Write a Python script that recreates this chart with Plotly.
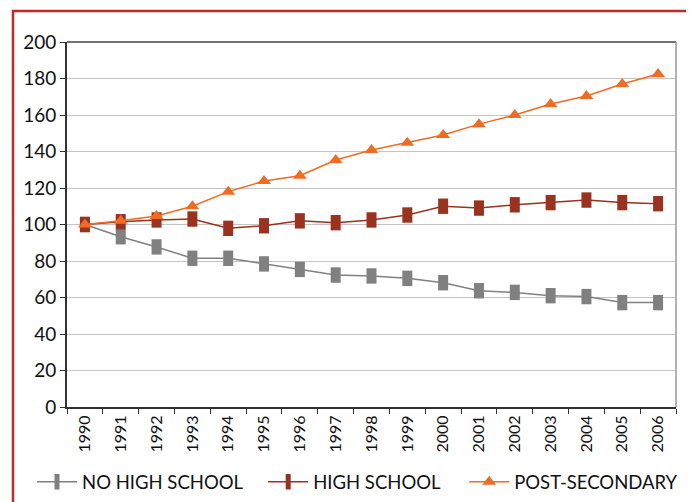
import plotly.graph_objects as go

years = [str(y) for y in range(1990, 2007)]
no_high_school = [100, 93.3, 87.7, 81.5, 81.5, 78.4, 75.4, 72.3, 71.8, 70.5, 68.1,
                  63.7, 62.8, 61.0, 60.5, 57.2, 57.2]
high_school = [100, 101.5, 102.5, 103, 97.9, 99.3, 102, 101, 102.5, 105.2, 110,
               109, 110.8, 112, 113.4, 112, 111.4]
post_secondary = [100, 102, 104.7, 110, 118, 123.8, 126.7, 135.3, 140.8, 144.8, 149,
                  155, 160, 166, 170.4, 177, 182.5]

fig = go.Figure()

# squares in the original are tall rectangles -> thick vertical line markers
for name, vals, color, leg in [("NO HIGH SCHOOL", no_high_school, "#808080", "legend"),
                               ("HIGH SCHOOL", high_school, "#9a3220", "legend2")]:
    fig.add_trace(go.Scatter(
        x=years, y=vals, name=name, mode="lines+markers",
        line=dict(color=color, width=1.5),
        marker=dict(symbol="line-ns", size=11, color=color,
                    line=dict(color=color, width=10)),
        legend=leg,
    ))

fig.add_trace(go.Scatter(
    x=years, y=post_secondary, name="POST-SECONDARY", mode="lines+markers",
    line=dict(color="#f26b22", width=1.5),
    marker=dict(symbol="triangle-up", size=12, color="#f26b22"),
    legend="legend3",
))

fig.update_xaxes(
    type="category", range=[-0.5, 16.5], tickangle=-90,
    tickson="boundaries", ticks="outside", ticklen=5, tickcolor="#333",
    showline=True, linecolor="#333", linewidth=2,
    showgrid=False, tickfont=dict(size=16, color="#111"),
)
fig.update_yaxes(
    range=[0, 200], dtick=20, ticks="outside", ticklen=5, tickcolor="#333",
    showline=True, linecolor="#333", linewidth=2,
    gridcolor="#c4c4c4", gridwidth=1, zeroline=False,
    tickfont=dict(size=19, color="#111"),
)

# plot frame: dark top edge, grey right edge
fig.add_shape(type="line", xref="paper", yref="paper", x0=0, x1=1, y0=1, y1=1,
              line=dict(color="#444", width=1.5))
fig.add_shape(type="line", xref="paper", yref="paper", x0=1, x1=1, y0=0, y1=1,
              line=dict(color="#999", width=1.5))
# red outer border (bottom edge falls outside the picture)
fig.add_shape(type="rect", xref="paper", yref="paper",
              x0=-0.0887, x1=1.026, y0=-0.32, y1=1.085,
              line=dict(color="#c0282d", width=2.5), layer="below")

legend_style = dict(orientation="h", xref="container", yref="container",
                    xanchor="left", y=0.04, yanchor="middle",
                    font=dict(size=18.5), itemwidth=40, bgcolor="rgba(0,0,0,0)")

# page body has an 8px margin, so the figure is 8px smaller than the window
fig.update_layout(
    width=686, height=494,
    margin=dict(l=59, r=18, t=34, b=95, autoexpand=False),
    paper_bgcolor="white", plot_bgcolor="white",
    font=dict(family="Lato", color="#111"),
    showlegend=True,
    legend=dict(legend_style, x=0.035),
    legend2=dict(legend_style, x=0.372),
    legend3=dict(legend_style, x=0.665),
)

fig.write_html("out.html")
